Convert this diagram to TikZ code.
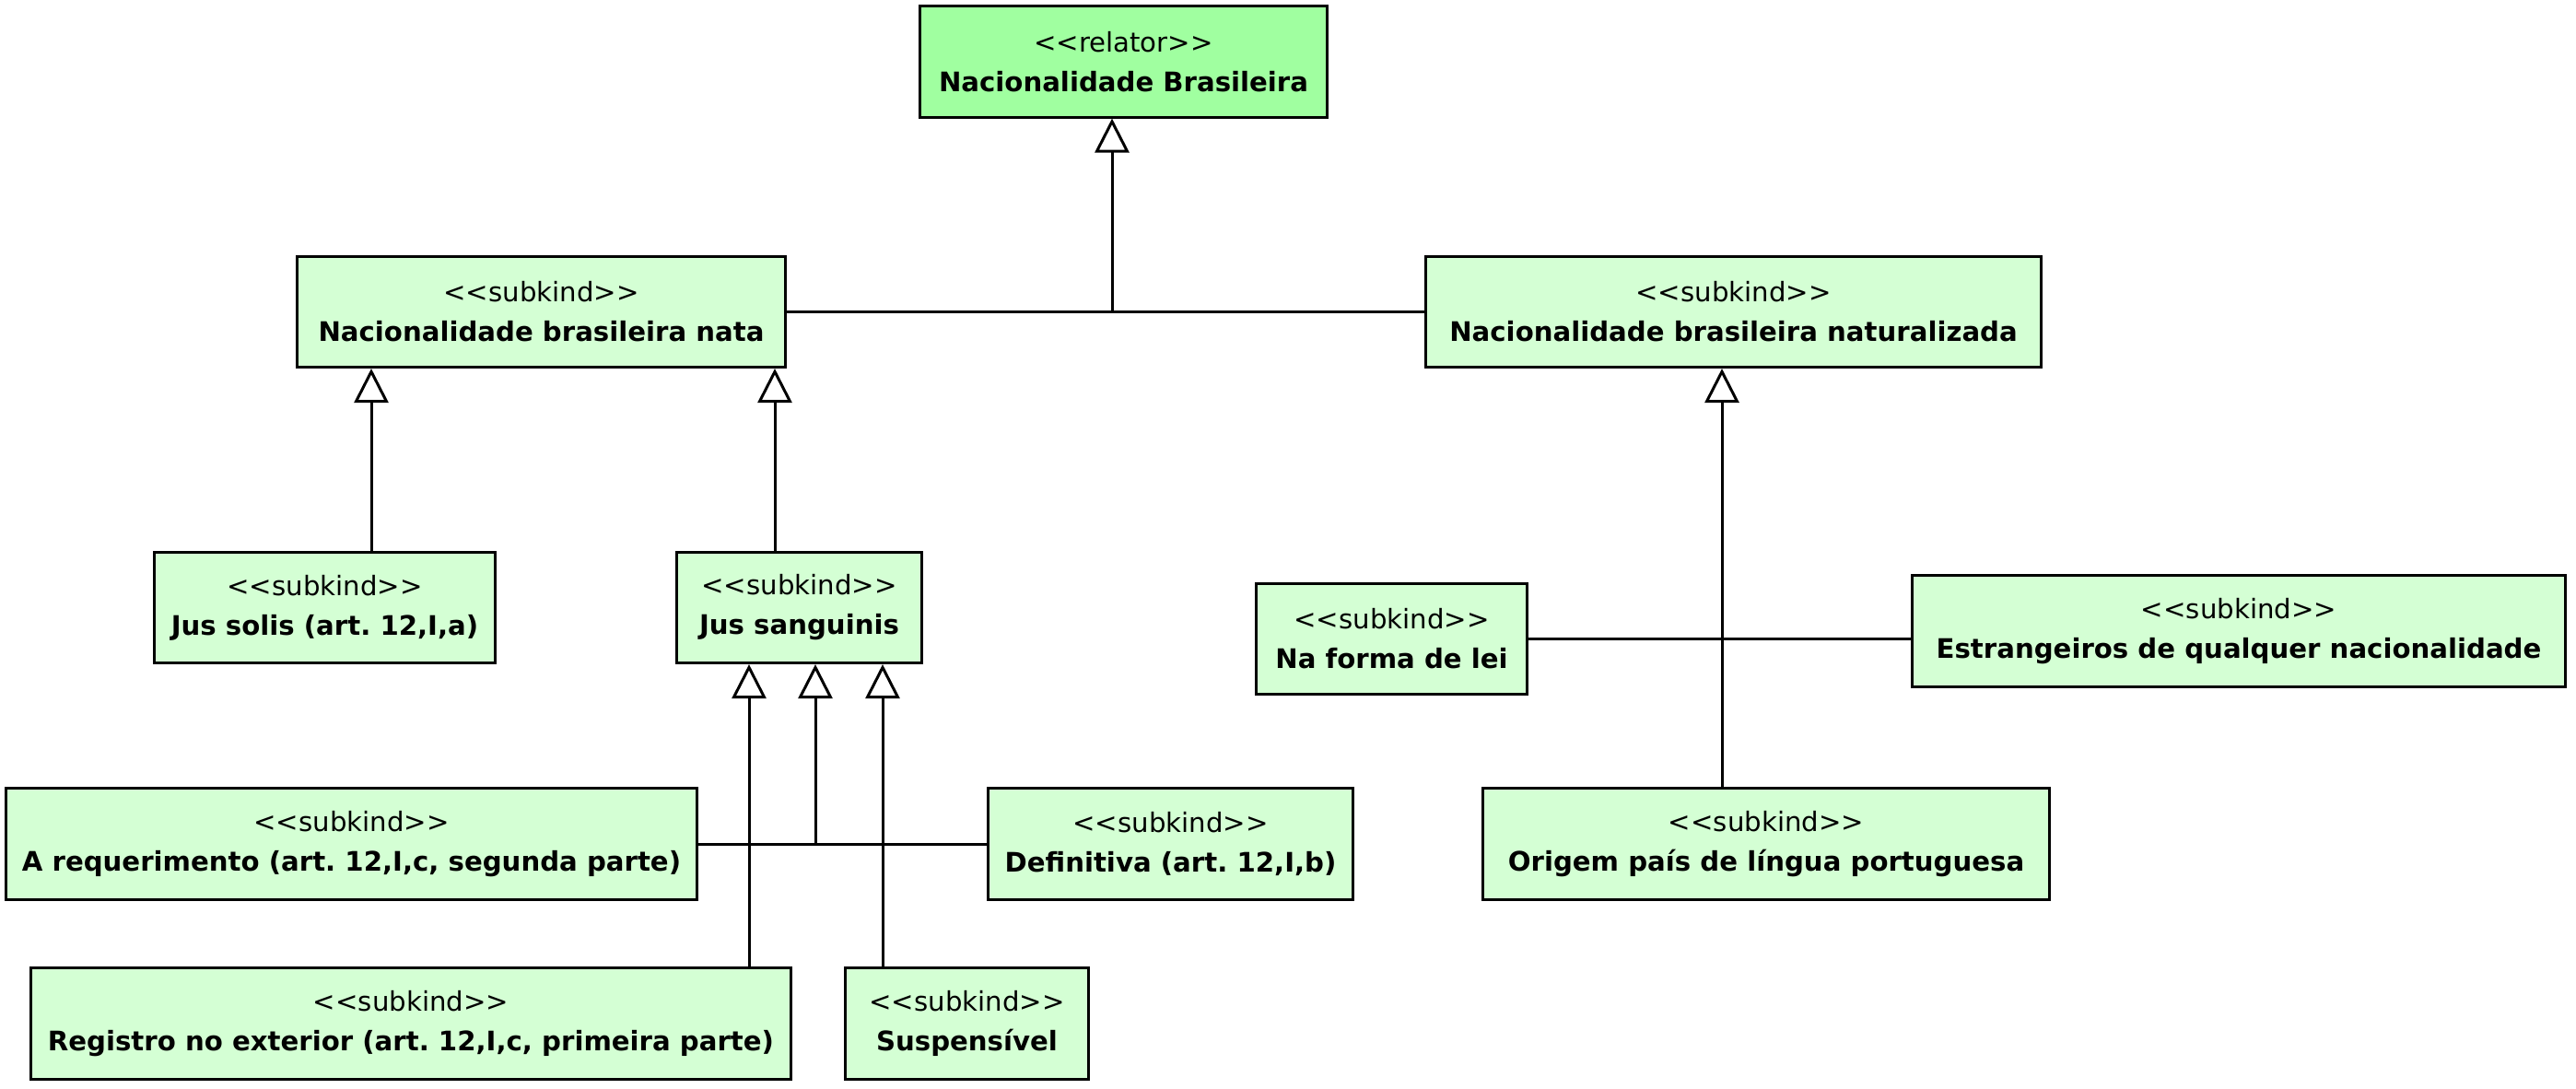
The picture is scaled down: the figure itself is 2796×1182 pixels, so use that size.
\documentclass[tikz,border=0pt]{standalone}
\usepackage{fontspec}
\usepackage{tikz}
\usetikzlibrary{arrows.meta}
\newfontfamily\umlfont{DejaVu Sans}
\definecolor{relatorgreen}{HTML}{A0FFA0}
\definecolor{subkindgreen}{HTML}{D4FFD4}
\newcommand{\stereo}[1]{<\kern0pt<#1>\kern0pt>}
\frenchspacing

\begin{document}
\begin{tikzpicture}[x=0.01cm, y=-0.01cm,
    umlclass/.style={draw, line width=0.03cm, minimum height=1.2cm, align=center,
      inner sep=0pt, font=\umlfont\fontsize{8.3}{12.2}\selectfont},
    relator/.style={umlclass, fill=relatorgreen},
    subkind/.style={umlclass, fill=subkindgreen},
    gen/.style={line width=0.03cm, -{Triangle[open, width=0.37cm, length=0.37cm]}},
    link/.style={line width=0.03cm}]
  \useasboundingbox (0,0) rectangle (2796,1182);
  \node [relator, minimum width=4.41cm] (rel) at (1219.5,67) {\stereo{relator}\\\textbf{Nacionalidade Brasileira}};
  \node [subkind, minimum width=5.29cm] (nata) at (587.5,338.5) {\stereo{subkind}\\\textbf{Nacionalidade brasileira nata}};
  \node [subkind, minimum width=6.67cm] (natur) at (1881.5,338.5) {\stereo{subkind}\\\textbf{Nacionalidade brasileira naturalizada}};
  \node [subkind, minimum width=3.69cm] (jsolis) at (352.5,659.5) {\stereo{subkind}\\\textbf{Jus solis (art. 12,I,a)}};
  \node [subkind, minimum width=2.65cm] (jsang) at (867.5,659.5) {\stereo{subkind}\\\textbf{Jus sanguinis}};
  \node [subkind, minimum width=2.93cm] (lei) at (1510.5,693.5) {\stereo{subkind}\\\textbf{Na forma de lei}};
  \node [subkind, minimum width=7.08cm] (estr) at (2430,685) {\stereo{subkind}\\\textbf{Estrangeiros de qualquer nacionalidade}};
  \node [subkind, minimum width=6.14cm] (origem) at (1917,916) {\stereo{subkind}\\\textbf{Origem país de língua portuguesa}};
  \node [subkind, minimum width=7.49cm] (areq) at (381.5,916) {\stereo{subkind}\\\textbf{A requerimento (art. 12,I,c, segunda parte)}};
  \node [subkind, minimum width=3.95cm] (defin) at (1270.5,916) {\stereo{subkind}\\\textbf{Definitiva (art. 12,I,b)}};
  \node [subkind, minimum width=8.24cm] (regist) at (446,1111) {\stereo{subkind}\\\textbf{Registro no exterior (art. 12,I,c, primeira parte)}};
  \node [subkind, minimum width=2.63cm] (susp) at (1049.5,1111) {\stereo{subkind}\\\textbf{Suspensível}};

  \draw [link] (nata.east) -- (natur.west);
  \draw [gen] (1207,0 |- nata.east) -- (1207,0 |- rel.south);
  \draw [gen] (403,0 |- jsolis.north) -- (403,0 |- nata.south);
  \draw [gen] (841,0 |- jsang.north) -- (841,0 |- nata.south);
  \draw [link] (lei.east) -- (lei.east -| estr.west);
  \draw [gen] (1869,0 |- origem.north) -- (1869,0 |- natur.south);
  \draw [link] (areq.east) -- (defin.west);
  \draw [gen] (813,0 |- regist.north) -- (813,0 |- jsang.south);
  \draw [gen] (885,0 |- areq.east) -- (885,0 |- jsang.south);
  \draw [gen] (958,0 |- susp.north) -- (958,0 |- jsang.south);
\end{tikzpicture}
\end{document}
